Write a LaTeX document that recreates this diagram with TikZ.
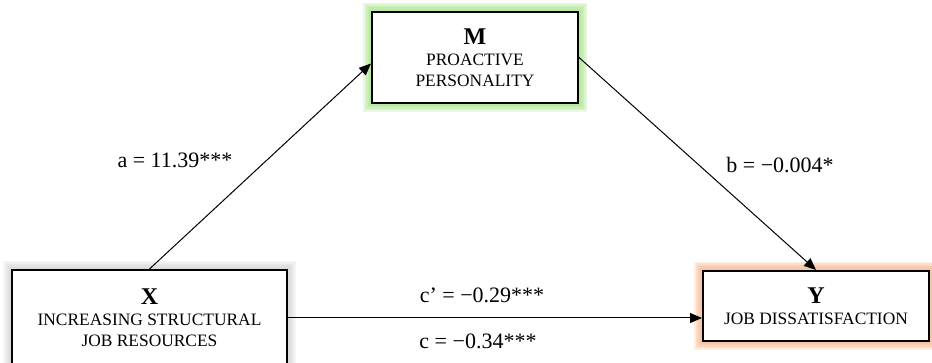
\documentclass[tikz,border=0pt]{standalone}
\usepackage{fontspec}
\setmainfont{Liberation Serif}
\definecolor{GlowGreen}{HTML}{9EE07F}
\definecolor{GlowOrange}{HTML}{F7AE80}
\definecolor{ShadowGray}{HTML}{B8B8B8}
\usetikzlibrary{arrows.meta, backgrounds, positioning}

\begin{document}
\begin{tikzpicture}[x=0.5pt, y=-0.5pt,
  varbox/.style={draw=black, line width=1pt, fill=white, align=center,
    inner sep=0pt, font=\fontsize{8.7}{10.6}\selectfont},
  effect/.style={-{Triangle[length=6pt, width=5pt]}, line width=0.5pt},
  coef/.style={font=\fontsize{11}{13}\selectfont}]
  \useasboundingbox (0,0) rectangle (932,363);

  %% variables
  \node[varbox, minimum width=103pt, minimum height=45.5pt] (M) at (475,57.5)
    {{\fontsize{12}{14}\selectfont\bfseries M}\\ PROACTIVE\\ PERSONALITY};
  \node[varbox, minimum width=113pt, minimum height=35pt] (Y) at (816,306)
    {{\fontsize{12}{14}\selectfont\bfseries Y}\\ JOB DISSATISFACTION};
  \node[varbox, minimum width=137.5pt, minimum height=48pt] (X) at (149.5,318)
    {{\fontsize{12}{14}\selectfont\bfseries X}\\ INCREASING STRUCTURAL\\ JOB RESOURCES};

  %% glow round the boxes
  \begin{scope}[on background layer]
    \foreach \w in {8,6.5,5,3.5,2}{
      \draw[GlowGreen, line width=\w pt, opacity=0.22] (M.south west) rectangle (M.north east);
      \draw[GlowOrange, line width=\w pt, opacity=0.22] (Y.south west) rectangle (Y.north east);
      \draw[ShadowGray, line width=\w pt, opacity=0.12] (X.south west) rectangle (X.north east);
    }
  \end{scope}

  %% paths
  \draw[effect] (X.north) -- ([yshift=-3pt]M.west);
  \draw[effect] (M.east) -- (Y.north);
  \draw[effect] (X.east) -- (X.east -| Y.west);

  %% coefficients
  \node[coef] (la) at (175,160) {a = 11.39***};
  \node[coef] (lb) at (780,165) {b = −0.004*};
  \node[coef] (lcp) at (482,295) {c’ = −0.29***};
  \node[coef] (lc) at (478,341) {c = −0.34***};
\end{tikzpicture}
\end{document}
